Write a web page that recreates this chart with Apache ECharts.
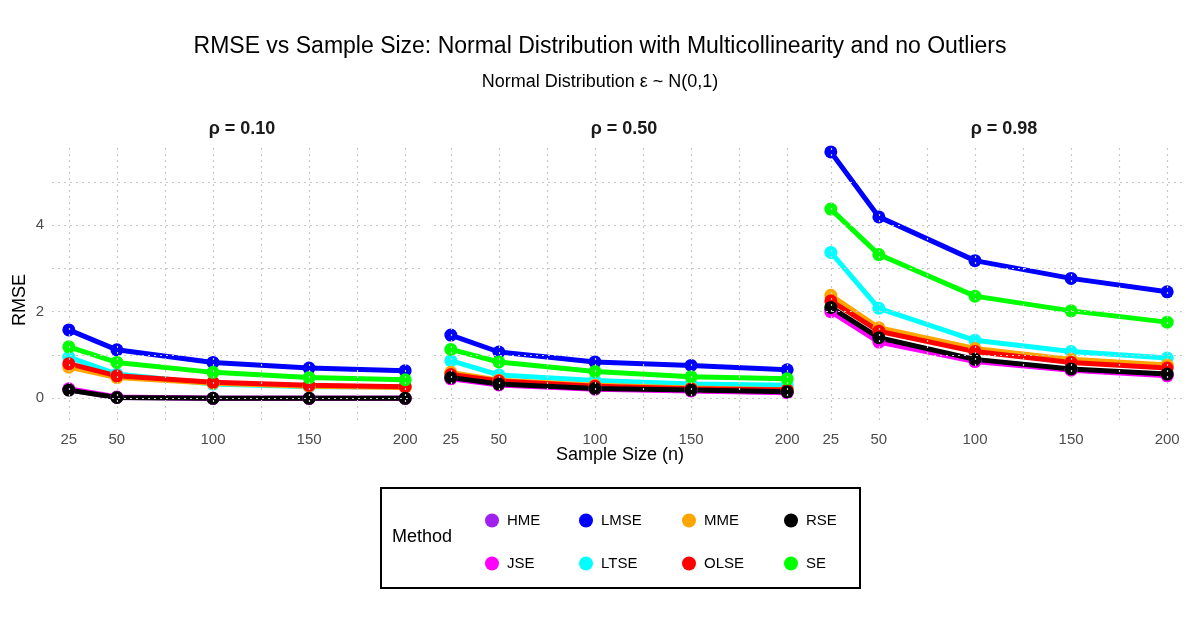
<!DOCTYPE html><html><head><meta charset="utf-8"><script src="https://cdn.jsdelivr.net/npm/echarts@6/dist/echarts.min.js"></script>
<style>html,body{margin:0;background:#fff}#c{width:1200px;height:627px}</style></head><body><div id="c"></div><script>
const sampleSizes=[25,50,100,150,200];
const panels=['ρ = 0.10','ρ = 0.50','ρ = 0.98'];
const methods=['HME','JSE','LMSE','LTSE','MME','OLSE','RSE','SE'];
const colors={HME:'#a020f0',JSE:'#ff00ff',LMSE:'#0000ff',LTSE:'#00ffff',MME:'#ffa500',OLSE:'#ff0000',RSE:'#000000',SE:'#00ff00'};
// values per panel
const HME_v=[[0.20,0.02,0,0,0],[0.47,0.32,0.22,0.18,0.14],[2.05,1.35,0.88,0.66,0.54]];
const JSE_v=[[0.22,0.03,0,0,0],[0.45,0.31,0.21,0.17,0.13],[2.0,1.30,0.85,0.65,0.52]];
const LMSE_v=[[1.58,1.12,0.83,0.70,0.64],[1.46,1.07,0.84,0.76,0.66],[5.69,4.19,3.18,2.77,2.46]];
const LTSE_v=[[0.95,0.56,0.33,0.27,0.27],[0.87,0.54,0.41,0.33,0.30],[3.37,2.08,1.34,1.08,0.93]];
const MME_v=[[0.72,0.48,0.35,0.28,0.25],[0.60,0.42,0.30,0.24,0.20],[2.38,1.63,1.15,0.90,0.77]];
const OLSE_v=[[0.80,0.52,0.37,0.30,0.27],[0.55,0.40,0.28,0.22,0.19],[2.25,1.55,1.08,0.83,0.70]];
const RSE_v=[[0.19,0.02,0,0,0],[0.48,0.33,0.23,0.19,0.15],[2.10,1.40,0.90,0.68,0.56]];
const SE_v=[[1.19,0.83,0.60,0.48,0.43],[1.13,0.84,0.62,0.50,0.45],[4.37,3.32,2.36,2.02,1.76]];
const vals={HME:HME_v,JSE:JSE_v,LMSE:LMSE_v,LTSE:LTSE_v,MME:MME_v,OLSE:OLSE_v,RSE:RSE_v,SE:SE_v};
const xGridLines=[25,50,75,100,125,150,175,200];
const yGridLines=[0,1,2,3,4,5];
const lefts=[52,434,814];
const grids=[],xAxes=[],yAxes=[],series=[],titles=[];
lefts.forEach((l,i)=>{
 grids.push({left:l,width:370,top:145,bottom:207});
 xAxes.push({type:'value',gridIndex:i,min:16.25,max:208.75,axisLine:{show:false},axisTick:{show:false},splitLine:{show:false},
  axisLabel:{customValues:sampleSizes,color:'#4d4d4d',fontSize:15,fontFamily:'Liberation Sans',margin:12}});
 yAxes.push({type:'value',gridIndex:i,min:-0.5,max:5.85,axisLine:{show:false},axisTick:{show:false},splitLine:{show:false},
  axisLabel:{show:i===0,customValues:[0,2,4],color:'#4d4d4d',fontSize:15,fontFamily:'Liberation Sans'}});
 titles.push({text:panels[i],left:l+185,top:115,textAlign:'center',textStyle:{fontSize:18,fontWeight:'bold',color:'#1a1a1a',fontFamily:'Liberation Sans'}});
 series.push({type:'line',xAxisIndex:i,yAxisIndex:i,data:[],silent:true,
  markLine:{silent:true,symbol:'none',label:{show:false},animation:false,
   lineStyle:{type:[2,4],color:'#c8c8c8',width:1.2},
   data:[...xGridLines.map(v=>({xAxis:v})),...yGridLines.map(v=>({yAxis:v}))]}});
 methods.forEach(m=>{
  series.push({name:m,type:'line',xAxisIndex:i,yAxisIndex:i,data:sampleSizes.map((x,k)=>[x,vals[m][i][k]]),
   color:colors[m],lineStyle:{width:5},symbol:'circle',symbolSize:13,itemStyle:{color:colors[m]},animation:false});
 });
});
titles.unshift({text:'RMSE vs Sample Size: Normal Distribution with Multicollinearity and no Outliers',left:'center',top:30,
 textStyle:{fontSize:23,fontWeight:'normal',color:'#000',fontFamily:'Liberation Sans'}});
titles.push({text:'Normal Distribution ε ~ N(0,1)',left:'center',top:68,textStyle:{fontSize:18,fontWeight:'normal',color:'#000',fontFamily:'Liberation Sans'}});
const legendPos={HME:[480,508],LMSE:[574,508],MME:[677,508],RSE:[779,508],JSE:[480,551],LTSE:[574,551],OLSE:[677,551],SE:[779,551]};
const legends=methods.map(m=>({data:[m],left:legendPos[m][0],top:legendPos[m][1],icon:'circle',itemWidth:20,itemHeight:14,
 selectedMode:false,textStyle:{fontSize:15,color:'#000',fontFamily:'Liberation Sans'}}));
const chart=echarts.init(document.getElementById('c'));
chart.setOption({backgroundColor:'#fff',title:titles,grid:grids,xAxis:xAxes,yAxis:yAxes,series:series,legend:legends,
 graphic:[
  {type:'rect',shape:{x:381,y:488,width:479,height:100},style:{fill:'none',stroke:'#000',lineWidth:2}},
  {type:'text',x:392,y:528,style:{text:'Method',fontSize:18,fill:'#000',fontFamily:'Liberation Sans'}},
  {type:'text',x:20,y:300,rotation:Math.PI/2,style:{text:'RMSE',fontSize:18,fill:'#000',fontFamily:'Liberation Sans',align:'center',verticalAlign:'middle'}},
  {type:'text',x:620,y:455,style:{text:'Sample Size (n)',fontSize:18,fill:'#000',fontFamily:'Liberation Sans',align:'center',verticalAlign:'middle'}}
 ]});
</script></body></html>
